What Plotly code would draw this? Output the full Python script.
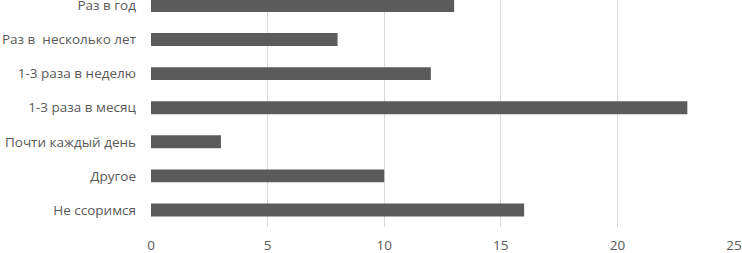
import plotly.graph_objects as go

categories = ["Не ссоримся", "Другое", "Почти каждый день", "1-3 раза в месяц",
              "1-3 раза в неделю", "Раз в  несколько лет", "Раз в год"]
values = [16, 10, 3, 23, 12, 8, 13]
x_ticks = [0, 5, 10, 15, 20, 25]

fig = go.Figure(go.Bar(
    y=categories, x=values, orientation="h",
    marker=dict(color="#5b5b5b", line=dict(width=0)),
))

font = dict(family="Open Sans, Noto Sans, sans-serif", size=13.5, color="#595959")
fig.update_layout(
    width=742, height=253,
    margin=dict(l=151, r=8, t=0, b=26, autoexpand=False),
    paper_bgcolor="white", plot_bgcolor="white",
    bargap=0.62, showlegend=False, font=font,
)
fig.update_xaxes(
    range=[0, 25], tickvals=x_ticks, showgrid=True, gridcolor="#d9d9d9",
    gridwidth=1, zeroline=False, showline=False, ticklabelstandoff=8,
    tickfont=font, automargin=False,
)
fig.update_yaxes(
    type="category", categoryorder="array", categoryarray=categories,
    range=[-0.5, 6.16], showgrid=False, zeroline=False, showline=False,
    ticklabelstandoff=14, tickfont=font, automargin=False,
)
fig.write_html("out.html", config={"displayModeBar": False},
               post_script="document.body.style.margin='0';document.body.style.padding='0';")
